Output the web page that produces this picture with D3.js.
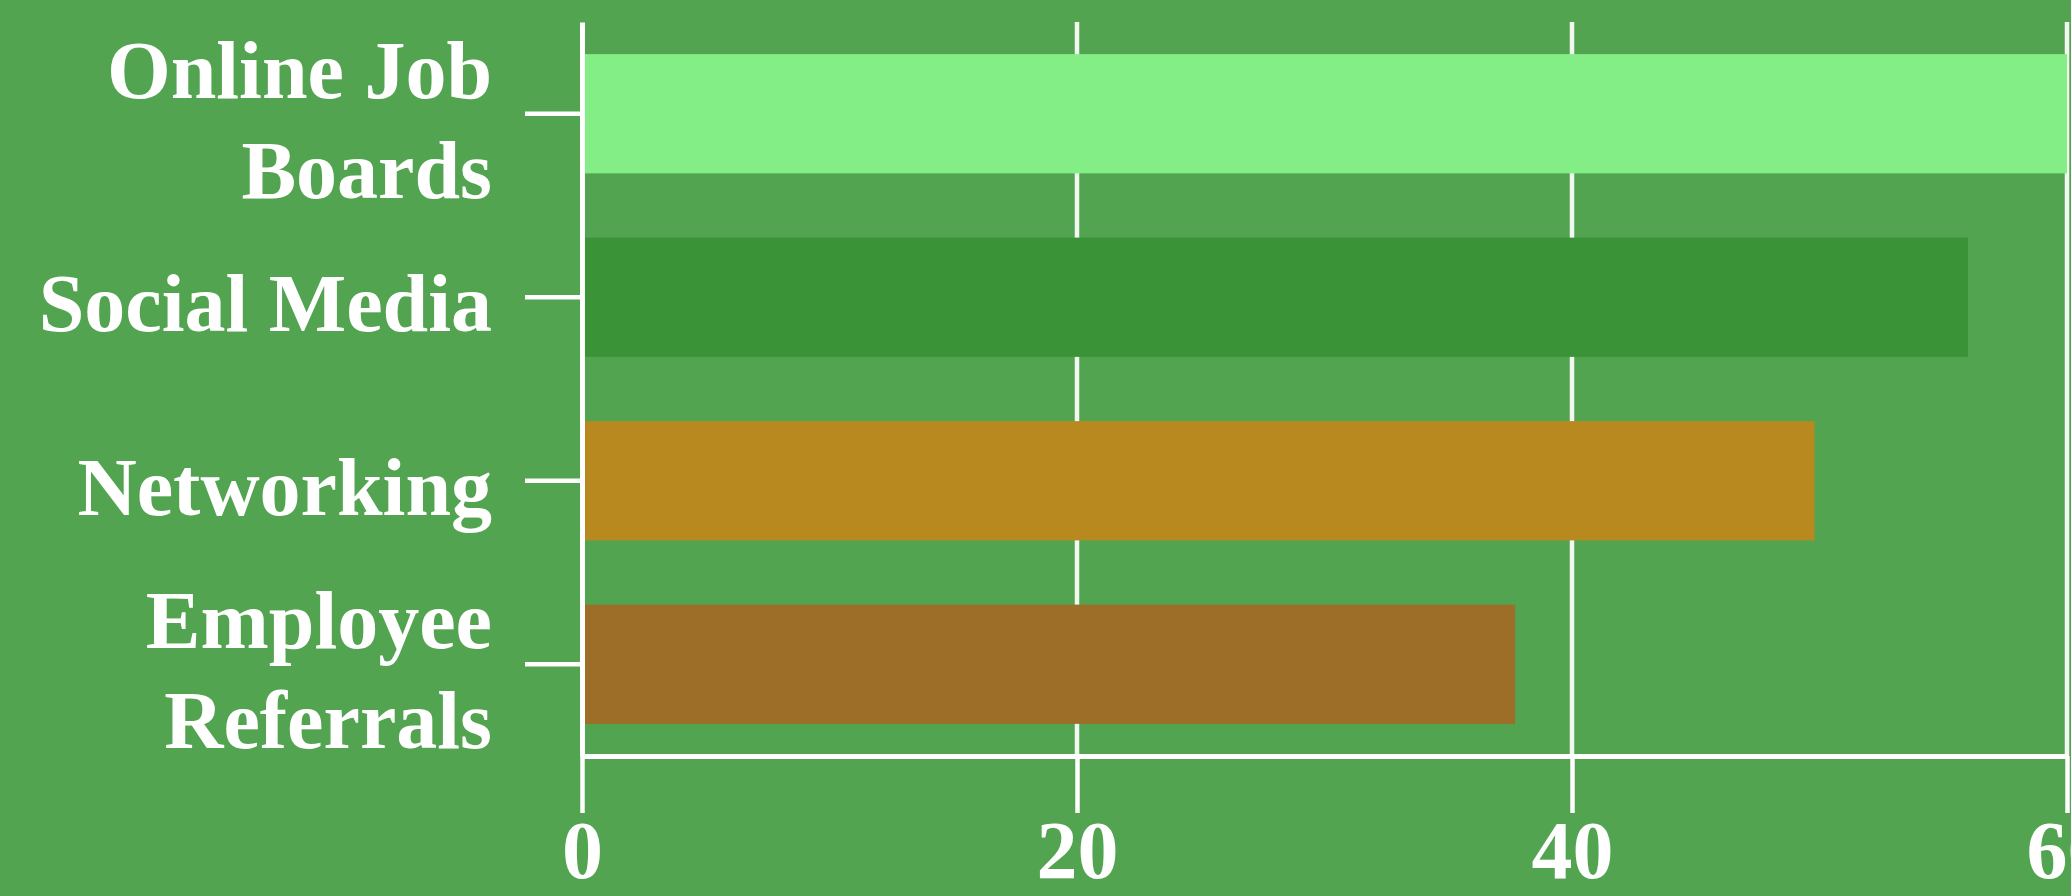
<!DOCTYPE html>
<html>
<head>
<meta charset="utf-8">
<script src="https://cdn.jsdelivr.net/npm/d3@7"></script>
<style>
  body { margin: 0; background: #52a450; }
  svg { display: block; }
</style>
</head>
<body>
<svg id="chart"></svg>
<script>
// chart data
const categories = ["Online Job Boards", "Social Media", "Networking", "Employee Referrals"];
const values = [60, 56, 49.8, 37.7];
const xTicks = [0, 20, 40, 60];

const barColors = ["#83ed86", "#3a9437", "#b8891f", "#9c6e27"];

const width = 2071, height = 896;
const margin = {top: 22, right: 4, bottom: 140, left: 582};
const fontSize = 82;

const svg = d3.select("#chart")
    .attr("width", width)
    .attr("height", height)
    .style("background", "#52a450");

const xScale = d3.scaleLinear()
    .domain([0, d3.max(values)])
    .range([margin.left, width - margin.right]);

const yScale = d3.scaleBand()
    .domain(categories)
    .range([margin.top, height - margin.bottom])
    .paddingInner(0.35)
    .paddingOuter(0.175);

// vertical grid lines
svg.append("g")
    .selectAll("line")
    .data(xTicks.slice(1))
    .join("line")
    .attr("x1", d => xScale(d))
    .attr("x2", d => xScale(d))
    .attr("y1", margin.top)
    .attr("y2", height - margin.bottom)
    .attr("stroke", "#f2f7f0")
    .attr("stroke-width", 4.5);

// bars
svg.append("g")
    .selectAll("rect")
    .data(categories)
    .join("rect")
    .attr("x", xScale(0))
    .attr("y", d => yScale(d))
    .attr("width", (d, i) => xScale(values[i]) - xScale(0))
    .attr("height", yScale.bandwidth())
    .attr("fill", (d, i) => barColors[i]);

// x axis
let xAxis = svg.append("g")
    .attr("transform", `translate(0,${height - margin.bottom})`)
    .call(d3.axisBottom(xScale).tickValues(xTicks).tickSize(57).tickSizeOuter(0).tickPadding(7));

// y axis
let yAxis = svg.append("g")
    .attr("transform", `translate(${margin.left},0)`)
    .call(d3.axisLeft(yScale).tickSize(57).tickSizeOuter(0).tickPadding(33));

[xAxis, yAxis].forEach(ax => {
    ax.select(".domain").attr("stroke", "#fff").attr("stroke-width", 5);
    ax.selectAll(".tick line").attr("stroke", "#fff").attr("stroke-width", 4.5);
    ax.selectAll(".tick text")
        .attr("fill", "#fff")
        .style("font-family", "'Liberation Serif', 'DejaVu Serif', serif")
        .style("font-weight", "bold")
        .style("font-size", fontSize + "px");
});

// wrap long category labels onto two lines
function wrap(text, maxWidth) {
    text.each(function() {
        const t = d3.select(this);
        const words = t.text().split(/\s+/);
        const x = t.attr("x");
        const lines = [];
        let current = [];
        t.text(null);
        const probe = t.append("tspan");
        words.forEach(w => {
            const test = current.concat([w]).join(" ");
            probe.text(test);
            if (probe.node().getComputedTextLength() > maxWidth && current.length) {
                lines.push(current.join(" "));
                current = [w];
            } else {
                current.push(w);
            }
        });
        lines.push(current.join(" "));
        probe.remove();
        const lineHeight = 1.22;
        const first = 0.415 - (lines.length - 1) * lineHeight / 2;
        t.attr("dy", null);
        lines.forEach((line, i) => {
            t.append("tspan")
                .attr("x", x)
                .attr("dy", (i === 0 ? first : lineHeight) + "em")
                .text(line);
        });
    });
}

yAxis.selectAll(".tick text").call(wrap, 470);
</script>
</body>
</html>
